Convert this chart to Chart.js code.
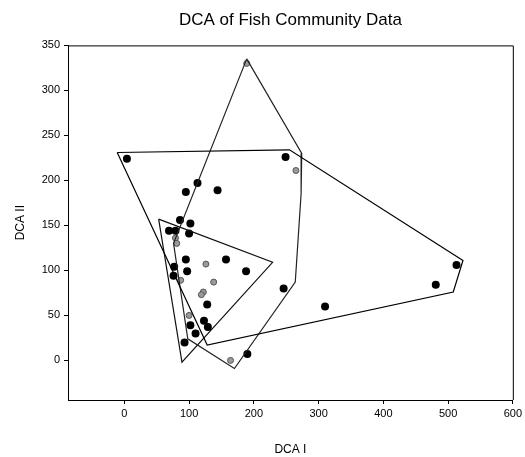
<!DOCTYPE html>
<html>
<head>
<meta charset="utf-8">
<script src="https://cdn.jsdelivr.net/npm/chart.js@4.4.0/dist/chart.umd.min.js"></script>
<style>
  html, body { margin: 0; padding: 0; background: #fff; }
</style>
</head>
<body>
<canvas id="chart" width="525" height="457"></canvas>
<script>
// tick labels
const xTicks = [0, 100, 200, 300, 400, 500, 600];
const yTicks = [0, 50, 100, 150, 200, 250, 300, 350];

// sample scores, solid black markers
const blackX = [4, 113, 95, 144, 249, 86, 102, 69, 79, 100, 95, 157, 77, 97, 76, 188, 128, 123, 129, 102, 110, 93, 190, 246, 310, 481, 513];
const blackY = [224, 197, 187, 189, 226, 156, 152, 144, 144, 141, 112, 112, 104, 99, 94, 99, 62, 44, 37, 39, 30, 20, 7, 80, 60, 84, 106];

// sample scores, grey markers
const greyX = [189, 265, 79, 81, 126, 87, 138, 122, 119, 100, 164];
const greyY = [330, 211, 136, 130, 107, 89, 87, 76, 73, 50, 0];

// hull outlines
const hullAX = [-11, 255, 523, 508, 128, -11];
const hullAY = [231, 234, 111, 76, 17, 231];
const hullBX = [189, 274, 273, 264, 170, 98, 76, 189];
const hullBY = [335, 230, 185, 87, -9, 24, 130, 335];
const hullCX = [53, 229, 89, 53];
const hullCY = [157, 109, -2, 157];

const toPts = (xs, ys) => xs.map((x, i) => ({ x: x, y: ys[i] }));

const hullStyle = (xs, ys, color) => ({
  data: toPts(xs, ys),
  showLine: true,
  borderColor: color,
  borderWidth: 1.2,
  pointRadius: 0,
  fill: false,
  tension: 0
});

// box round the plot area (top and right sides)
const frame = {
  id: 'frame',
  afterDraw(chart) {
    const { ctx, chartArea: a } = chart;
    ctx.save();
    ctx.strokeStyle = '#000';
    ctx.lineWidth = 1;
    ctx.beginPath();
    ctx.moveTo(a.left, a.top + 0.5);
    ctx.lineTo(a.right + 0.5, a.top + 0.5);
    ctx.lineTo(a.right + 0.5, a.bottom);
    ctx.stroke();
    ctx.restore();
  }
};

new Chart(document.getElementById('chart'), {
  type: 'scatter',
  data: {
    datasets: [
      hullStyle(hullAX, hullAY, '#000'),
      hullStyle(hullBX, hullBY, '#222'),
      hullStyle(hullCX, hullCY, '#111'),
      {
        data: toPts(blackX, blackY),
        pointRadius: 4,
        backgroundColor: '#000',
        borderColor: '#000',
        borderWidth: 0
      },
      {
        data: toPts(greyX, greyY),
        pointRadius: 3,
        backgroundColor: '#9a9a9a',
        borderColor: '#555',
        borderWidth: 1
      }
    ]
  },
  options: {
    responsive: false,
    animation: false,
    layout: { padding: { left: 0, right: 12, top: 0, bottom: 0 } },
    plugins: {
      legend: { display: false },
      tooltip: { enabled: false },
      title: {
        display: true,
        fullSize: false,
        text: 'DCA of Fish Community Data',
        color: '#000',
        font: { family: 'Liberation Sans, Arial, sans-serif', size: 17, weight: 'normal' },
        padding: { top: 10, bottom: 15 }
      }
    },
    scales: {
      x: {
        type: 'linear',
        min: -87,
        max: 600,
        afterBuildTicks: (s) => { s.ticks = xTicks.map(v => ({ value: v })); },
        afterFit: (s) => { s.height = 57; },
        grid: { display: true, drawOnChartArea: false, drawTicks: true, tickLength: 4, color: '#000' },
        border: { display: true, color: '#000', width: 1 },
        ticks: { color: '#000', padding: 3, maxRotation: 0, font: { family: 'Liberation Sans, Arial, sans-serif', size: 11 } },
        title: {
          display: true,
          text: 'DCA I',
          color: '#000',
          font: { family: 'Liberation Sans, Arial, sans-serif', size: 12 },
          padding: { top: 4, bottom: 0 }
        }
      },
      y: {
        type: 'linear',
        min: -44,
        max: 350,
        afterBuildTicks: (s) => { s.ticks = yTicks.map(v => ({ value: v })); },
        afterFit: (s) => { s.width = 68; },
        grid: { display: true, drawOnChartArea: false, drawTicks: true, tickLength: 4, color: '#000' },
        border: { display: true, color: '#000', width: 1 },
        ticks: { color: '#000', padding: 4, font: { family: 'Liberation Sans, Arial, sans-serif', size: 11 } },
        title: {
          display: true,
          text: 'DCA II',
          color: '#000',
          font: { family: 'Liberation Sans, Arial, sans-serif', size: 12 },
          padding: { top: 13, bottom: 0 }
        }
      }
    }
  },
  plugins: [frame]
});
</script>
</body>
</html>
